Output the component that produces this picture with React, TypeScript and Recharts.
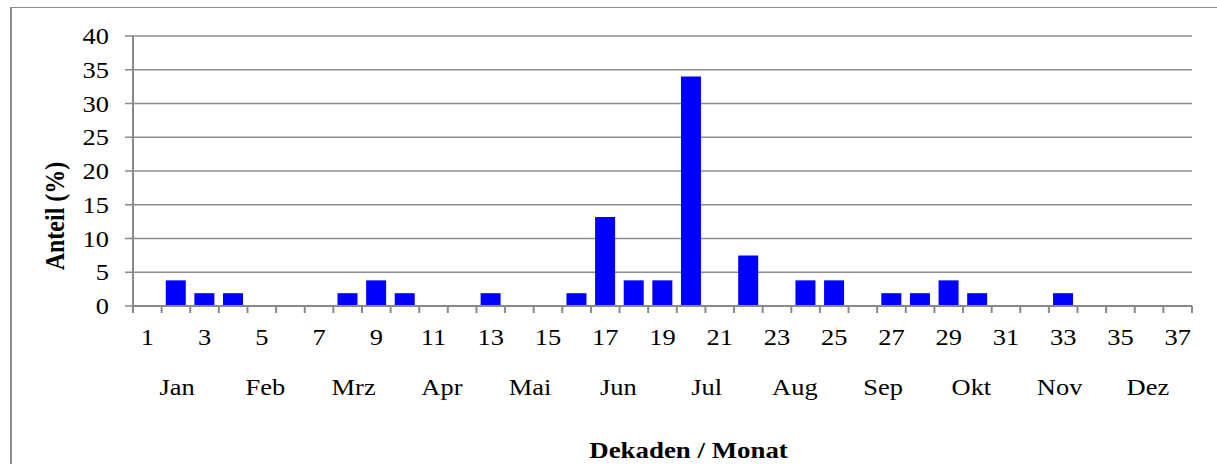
import React from 'react';
import { BarChart, Bar, XAxis, YAxis, CartesianGrid } from 'recharts';

const DECADES = ['1', '2', '3', '4', '5', '6', '7', '8', '9', '10', '11', '12', '13', '14', '15', '16', '17', '18', '19', '20', '21', '22', '23', '24', '25', '26', '27', '28', '29', '30', '31', '32', '33', '34', '35', '36', '37'];
const SHARES = [0, 3.8, 1.9, 1.9, 0, 0, 0, 1.9, 3.8, 1.9, 0, 0, 1.9, 0, 0, 1.9, 13.2, 3.8, 3.8, 34.0, 0, 7.5, 0, 3.8, 3.8, 0, 1.9, 1.9, 3.8, 1.9, 0, 0, 1.9, 0, 0, 0, 0];
const MONTHS = ['Jan', 'Feb', 'Mrz', 'Apr', 'Mai', 'Jun', 'Jul', 'Aug', 'Sep', 'Okt', 'Nov', 'Dez'];
const MONTH_TICKS = [0.5, 1.5, 2.5, 3.5, 4.5, 5.5, 6.5, 7.5, 8.5, 9.5, 10.5, 11.5];
const Y_TICKS = [0, 5, 10, 15, 20, 25, 30, 35, 40];

const data = DECADES.map((d, i) => ({ d, v: SHARES[i] }));

const W = 1217;
const H = 464;
const MARGIN = { top: 36, right: 25, left: 0, bottom: 0 };
const Y_WIDTH = 133;
const PLOT_W = W - Y_WIDTH - MARGIN.right;
const AXIS = '#898989';
const FONT = '"Liberation Serif", "Times New Roman", serif';
const SX = 1.15;

const DecadeTick = (props: any) => {
  const { x, y, payload } = props;
  const i = props.index ?? payload.index;
  const half = PLOT_W / DECADES.length / 2;
  return (
    <g>
      <line x1={x - half} x2={x - half} y1={y} y2={y + 7} stroke={AXIS} strokeWidth={2} />
      {i === DECADES.length - 1 && (
        <line x1={x + half} x2={x + half} y1={y} y2={y + 7} stroke={AXIS} strokeWidth={2} />
      )}
      {i % 2 === 0 && (
        <text
          transform={`translate(${x},${y + 39}) scale(${SX},1)`}
          textAnchor="middle"
          fontSize={23}
          fontFamily={FONT}
          fill="#000"
        >
          {payload.value}
        </text>
      )}
    </g>
  );
};

const MonthTick = (props: any) => {
  const { x, y, payload } = props;
  return (
    <text
      transform={`translate(${x},${y + 39}) scale(${SX},1)`}
      textAnchor="middle"
      fontSize={23}
      fontFamily={FONT}
      fill="#000"
    >
      {MONTHS[Math.floor(payload.value)]}
    </text>
  );
};

const YTick = (props: any) => {
  const { x, y, payload } = props;
  return (
    <text
      transform={`translate(${x},${y + 8}) scale(${SX},1)`}
      textAnchor="end"
      fontSize={23}
      fontFamily={FONT}
      fill="#000"
    >
      {payload.value}
    </text>
  );
};

const TitleLabel = (props: any) => {
  const vb = props.viewBox;
  return (
    <text
      transform={`translate(${vb.x + vb.width / 2 + 26},${vb.y + 102}) scale(1.12,1)`}
      textAnchor="middle"
      fontSize={24}
      fontWeight="bold"
      fontFamily={FONT}
      fill="#000"
    >
      Dekaden / Monat
    </text>
  );
};

const YLabel = (props: any) => {
  const vb = props.viewBox;
  return (
    <text
      transform={`translate(${vb.x + 64},${vb.y + vb.height / 2 + 45}) scale(1.12,1) rotate(-90)`}
      textAnchor="middle"
      fontSize={24}
      fontWeight="bold"
      fontFamily={FONT}
      fill="#000"
    >
      Anteil (%)
    </text>
  );
};

export default function App() {
  return (
    <div style={{ position: 'absolute', left: 0, top: 0, width: W, height: H, background: '#fff' }}>
      <div
        style={{
          position: 'absolute',
          left: 10,
          top: 7,
          width: W - 10,
          height: H - 7,
          borderLeft: '2px solid #8c8c8c',
          borderTop: '1px solid #8c8c8c',
          boxSizing: 'border-box',
        }}
      />
      <div style={{ position: 'absolute', left: 0, top: 0 }}>
        <BarChart width={W} height={H} data={data} margin={MARGIN} barCategoryGap="14.5%">
          <CartesianGrid vertical={false} stroke="#8c8c8c" strokeWidth={1.5} />
          <XAxis
            dataKey="d"
            type="category"
            interval={0}
            height={50}
            tickSize={0}
            tickMargin={0}
            tickLine={false}
            axisLine={{ stroke: AXIS, strokeWidth: 2 }}
            tick={DecadeTick}
          />
          <XAxis
            xAxisId="m"
            dataKey="monthPosition"
            type="number"
            domain={[0, 12]}
            allowDataOverflow
            ticks={MONTH_TICKS}
            interval={0}
            height={108}
            tickSize={0}
            tickMargin={0}
            tickLine={false}
            axisLine={false}
            tick={MonthTick}
            label={TitleLabel}
          />
          <YAxis
            width={Y_WIDTH}
            domain={[0, 40]}
            ticks={Y_TICKS}
            interval={0}
            tickSize={8}
            tickMargin={16}
            tickLine={{ stroke: AXIS, strokeWidth: 1.5 }}
            axisLine={{ stroke: AXIS, strokeWidth: 2 }}
            tick={YTick}
            label={YLabel}
          />
          <Bar dataKey="v" fill="#0000ff" isAnimationActive={false} />
        </BarChart>
      </div>
    </div>
  );
}
